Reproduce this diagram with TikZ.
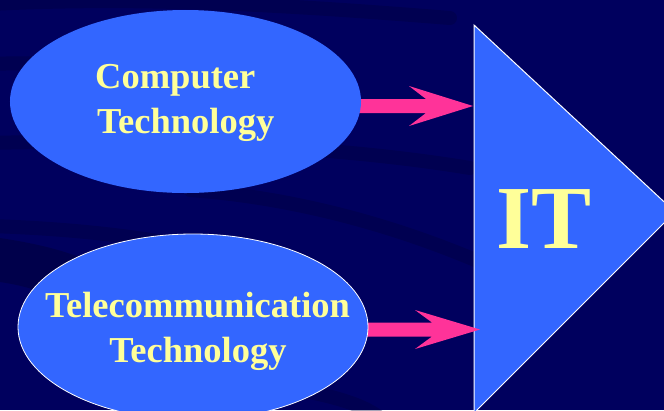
\documentclass[tikz,border=0pt]{standalone}
\usepackage{fontspec}
\setmainfont{Liberation Serif}
\usetikzlibrary{shapes.geometric,calc}
\definecolor{bgnavy}{HTML}{00005E}
\definecolor{streak}{HTML}{00003A}
\definecolor{ellblue}{HTML}{3366FF}
\definecolor{txtyellow}{HTML}{FFFF99}
\definecolor{arrpink}{HTML}{FF3399}
\pgfdeclarelayer{back}
\pgfdeclarelayer{mid}
\pgfsetlayers{back,mid,main}
\begin{document}
\begin{tikzpicture}[x=1bp,y=-1bp,
  blob/.style={ellipse, fill=ellblue, inner sep=0pt},
  lbl/.style={text=txtyellow, font=\fontsize{36.5bp}{45bp}\selectfont\bfseries, inner sep=0pt},
  bigarrow/.style={fill=arrpink},
  streakline/.style={draw=streak, line width=14bp, opacity=0.35, line cap=round}]
\useasboundingbox (0,0) rectangle (664,410);
\begin{pgfonlayer}{back}
  \fill[bgnavy] (0,0) rectangle (664,410);
  \draw[streakline] (-10,4) .. controls (150,-4) and (300,6) .. (450,18);
  \draw[streakline] (-10,64) .. controls (40,62) and (80,64) .. (120,70);
  \draw[streakline] (-10,143) .. controls (100,140) and (300,140) .. (470,168);
  \draw[streakline] (-10,226) .. controls (120,230) and (250,250) .. (340,292);
  \draw[streakline] (190,190) .. controls (300,198) and (400,228) .. (480,262);
  \draw[streakline] (260,384) .. controls (320,392) and (360,402) .. (380,418);
  \fill[streak, opacity=0.5] (0,238) .. controls (40,244) and (70,252) .. (90,262) -- (60,300) .. controls (40,290) and (20,285) .. (0,282) -- cycle;
  \coordinate (ta) at (474,25);
  \coordinate (tb) at (675,212);
  \coordinate (tc) at (474,413);
  \filldraw[fill=ellblue, draw=white, line width=1bp] (ta) -- (tb) -- (tc) -- cycle;
\end{pgfonlayer}
\node[blob, minimum width=351bp, minimum height=183bp] (ct) at (185.5,101.5) {};
\node[blob, draw=white, line width=0.8bp, minimum width=350bp, minimum height=186bp] (tt) at (193,327) {};
\node[lbl, anchor=base west] (c1) at (95,88) {Computer};
\node[lbl, anchor=base west] (c2) at (97,133) {Technology};
\node[lbl, anchor=base] (m1) at (197.5,317) {Telecommunication};
\node[lbl, anchor=base] (m2) at (198,362) {Technology};
\node[text=txtyellow, font=\fontsize{90bp}{90bp}\selectfont\bfseries, anchor=base, inner sep=0pt] (it) at (544.5,248) {IT};
\begin{pgfonlayer}{mid}
  \coordinate (p1) at (473,106);
  \coordinate (q1) at (480,329.5);
  \coordinate (s1a) at (ct.east |- p1);
  \coordinate (s2a) at (tt.east |- q1);
  \coordinate (s1) at ($(s1a)+(-10,0)$);
  \coordinate (s2) at ($(s2a)+(-10,0)$);
  \fill[bigarrow] ($(s1)+(0,-7)$) -- ($(p1)+(-47,-7)$) -- ($(p1)+(-64,-20)$) -- (p1)
    -- ($(p1)+(-64,20)$) -- ($(p1)+(-47,7)$) -- ($(s1)+(0,7)$) -- cycle;
  \fill[bigarrow] ($(s2)+(0,-7)$) -- ($(q1)+(-48,-7)$) -- ($(q1)+(-65,-19.5)$) -- (q1)
    -- ($(q1)+(-65,19.5)$) -- ($(q1)+(-48,7)$) -- ($(s2)+(0,7)$) -- cycle;
\end{pgfonlayer}
\end{tikzpicture}
\end{document}
